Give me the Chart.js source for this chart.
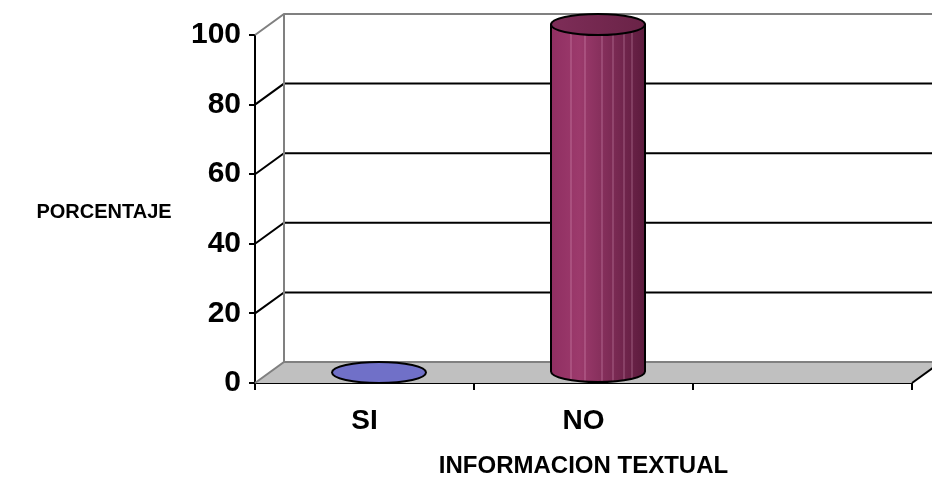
<!DOCTYPE html>
<html>
<script src="https://cdn.jsdelivr.net/npm/chart.js@4/dist/chart.umd.min.js"></script>
<body style="margin:0;background:#fff;">
<div style="width:932px;height:480px;"><canvas id="infoChart" width="932" height="480"></canvas></div>

<script>
var categories = ['SI', 'NO', ''];
var porcentaje = [0, 100, null];
var yTicks = [0, 20, 40, 60, 80, 100];
var yTitle = 'PORCENTAJE';
var xTitle = 'INFORMACION TEXTUAL';

var FONT = '"Liberation Sans", Arial, sans-serif';
var DX = 29, DY = -21;   // depth offset of the fake 3d box

function bodyPath(ctx, cx, rx, ry, top, bot) {
  ctx.beginPath();
  ctx.moveTo(cx - rx, top);
  ctx.lineTo(cx - rx, bot);
  ctx.ellipse(cx, bot, rx, ry, 0, Math.PI, 0, true);
  ctx.lineTo(cx + rx, top);
  ctx.closePath();
}

var box3d = {
  id: 'box3d',
  beforeDatasetsDraw: function(chart) {
    var ctx = chart.ctx, y = chart.scales.y, a = chart.chartArea;
    var y0 = y.getPixelForValue(0), yTop = y.getPixelForValue(100);
    var right = chart.width + 10;
    ctx.save();
    // floor
    ctx.beginPath();
    ctx.moveTo(a.left, y0);
    ctx.lineTo(a.right, y0);
    ctx.lineTo(a.right + DX, y0 + DY);
    ctx.lineTo(a.left + DX, y0 + DY);
    ctx.closePath();
    ctx.fillStyle = '#c0c0c0';
    ctx.fill();
    ctx.lineWidth = 2;
    ctx.strokeStyle = '#000';
    ctx.beginPath();
    ctx.moveTo(a.right, y0); ctx.lineTo(a.right + DX, y0 + DY);
    ctx.stroke();
    // gridlines on side wall and back wall
    yTicks.forEach(function(v) {
      var py = y.getPixelForValue(v);
      ctx.strokeStyle = (v === 0 || v === 100) ? '#808080' : '#000';
      ctx.beginPath();
      ctx.moveTo(a.left, py);
      ctx.lineTo(a.left + DX, py + DY);
      ctx.lineTo(right, py + DY);
      ctx.stroke();
    });
    // back wall left edge
    ctx.strokeStyle = '#808080';
    ctx.beginPath();
    ctx.moveTo(a.left + DX, yTop + DY);
    ctx.lineTo(a.left + DX, y0 + DY);
    ctx.stroke();
    ctx.restore();
  },
  afterDatasetsDraw: function(chart) {
    var ctx = chart.ctx, meta = chart.getDatasetMeta(0);
    meta.data.forEach(function(bar, i) {
      if (porcentaje[i] == null) return;
      var cx = bar.x + DX / 2;
      var rx = 47, ry = 10.5;
      var top = bar.y + DY / 2, bot = bar.base + DY / 2;
      ctx.save();
      ctx.lineWidth = 2;
      ctx.strokeStyle = '#000';
      if (bot - top > 1) {
        var g = ctx.createLinearGradient(cx - rx, 0, cx + rx, 0);
        g.addColorStop(0, '#902f62');
        g.addColorStop(0.3, '#9c3a6c');
        g.addColorStop(1, '#5c1b3d');
        bodyPath(ctx, cx, rx, ry, top, bot);
        ctx.fillStyle = g;
        ctx.fill();
        // light stripes of the shaded body
        ctx.save();
        ctx.clip();
        ctx.strokeStyle = 'rgba(255,200,230,0.35)';
        ctx.lineWidth = 1;
        [-27, -13, 4, 15, 26, 34].forEach(function(o) {
          ctx.beginPath();
          ctx.moveTo(cx + o, top);
          ctx.lineTo(cx + o, bot + ry);
          ctx.stroke();
        });
        ctx.restore();
        bodyPath(ctx, cx, rx, ry, top, bot);
        ctx.stroke();
        var gt = ctx.createLinearGradient(cx - rx, 0, cx + rx, 0);
        gt.addColorStop(0, '#7e2d58');
        gt.addColorStop(1, '#6a2347');
        ctx.beginPath();
        ctx.ellipse(cx, top, rx, ry, 0, 0, Math.PI * 2);
        ctx.fillStyle = gt;
        ctx.fill();
        ctx.stroke();
      } else {
        ctx.beginPath();
        ctx.ellipse(cx, top, rx, ry, 0, 0, Math.PI * 2);
        ctx.fillStyle = '#7070c8';
        ctx.fill();
        ctx.stroke();
      }
      ctx.restore();
    });
  },
  afterDraw: function(chart) {
    var ctx = chart.ctx;
    ctx.save();
    ctx.fillStyle = '#000';
    ctx.textAlign = 'center';
    ctx.textBaseline = 'middle';
    ctx.font = 'bold 20px ' + FONT;
    ctx.fillText(yTitle, 104, 212);
    ctx.font = 'bold 24px ' + FONT;
    ctx.fillText(xTitle, chart.scales.x.getPixelForValue(1), 466);
    ctx.restore();
  }
};

new Chart('infoChart', {
  type: 'bar',
  data: {
    labels: categories,
    datasets: [{
      data: porcentaje,
      backgroundColor: 'rgba(0,0,0,0)',
      borderWidth: 0
    }]
  },
  options: {
    responsive: false,
    animation: false,
    layout: { padding: { top: 35, right: 20, left: 0, bottom: 0 } },
    plugins: { legend: { display: false }, tooltip: { enabled: false } },
    scales: {
      y: {
        min: 0, max: 100,
        afterFit: function(s) { s.width = 255; },
        ticks: { stepSize: 20, color: '#000', padding: 8, font: { family: FONT, size: 30, weight: 'bold' } },
        grid: { drawOnChartArea: false, tickLength: 6, color: '#000', lineWidth: 2 },
        border: { color: '#000', width: 2 }
      },
      x: {
        offset: true,
        afterFit: function(s) { s.height = 97; },
        ticks: { color: '#000', padding: 14, font: { family: FONT, size: 28, weight: 'bold' } },
        grid: { offset: true, drawOnChartArea: false, tickLength: 7, color: '#000', lineWidth: 2 },
        border: { color: '#000', width: 2 }
      }
    }
  },
  plugins: [box3d]
});
</script>
</body>
</html>
